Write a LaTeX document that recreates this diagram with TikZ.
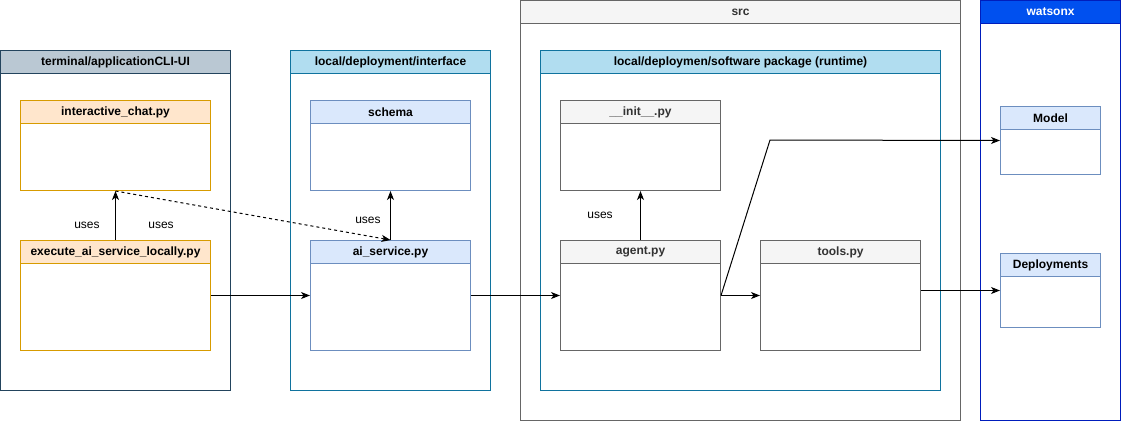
\documentclass[tikz,border=0pt]{standalone}
\usepackage{fontspec}
\setmainfont{Liberation Sans}
\usetikzlibrary{arrows.meta}

\definecolor{termF}{HTML}{BAC8D3}
\definecolor{termS}{HTML}{23445D}
\definecolor{orngF}{HTML}{FFE6CC}
\definecolor{orngS}{HTML}{D79B00}
\definecolor{pkgF}{HTML}{B1DDF0}
\definecolor{pkgS}{HTML}{10739E}
\definecolor{modF}{HTML}{DAE8FC}
\definecolor{modS}{HTML}{6C8EBF}
\definecolor{srcF}{HTML}{F5F5F5}
\definecolor{srcS}{HTML}{666666}
\definecolor{srcT}{HTML}{333333}
\definecolor{wxF}{HTML}{0050EF}
\definecolor{wxS}{HTML}{001DBC}

\begin{document}
\begin{tikzpicture}[x=1pt,y=-1pt]
\tikzset{frame/.style={draw=#1, line width=1pt, anchor=north west, inner sep=0pt}}
\tikzset{head/.style={draw=#1, line width=1pt, anchor=north, minimum height=23pt, inner sep=0pt, font=\fontsize{12pt}{14pt}\selectfont\bfseries}}
\tikzset{link/.style={draw=black, line width=1pt, -{Stealth[length=9pt,width=7pt,inset=2.5pt]}}}
\tikzset{lbl/.style={font=\fontsize{12pt}{14pt}\selectfont}}

\useasboundingbox (0,0) rectangle (1121,421);

% outer containers
\node[frame=termS, minimum width=230pt, minimum height=340pt] (term) at (0,50) {};
\node[head=termS, fill=termF, minimum width=230pt] (term-h) at (term.north) {terminal/applicationCLI-UI};

\node[frame=pkgS, minimum width=200pt, minimum height=340pt] (iface) at (290,50) {};
\node[head=pkgS, fill=pkgF, minimum width=200pt] (iface-h) at (iface.north) {local/deployment/interface};

\node[frame=srcS, minimum width=440pt, minimum height=420pt] (src) at (520,0) {};
\node[head=srcS, fill=srcF, minimum width=440pt, text=srcT] (src-h) at (src.north) {src};

\node[frame=pkgS, minimum width=400pt, minimum height=340pt] (runtime) at (540,50) {};
\node[head=pkgS, fill=pkgF, minimum width=400pt] (runtime-h) at (runtime.north) {local/deploymen/software package (runtime)};

\node[frame=wxS, minimum width=140pt, minimum height=420pt] (wx) at (980,0) {};
\node[head=wxS, fill=wxF, minimum width=140pt, text=white] (wx-h) at (wx.north) {watsonx};

% modules
\node[frame=orngS, minimum width=190pt, minimum height=90pt] (chat) at (20,100) {};
\node[head=orngS, fill=orngF, minimum width=190pt] (chat-h) at (chat.north) {interactive\_chat.py};

\node[frame=orngS, minimum width=190pt, minimum height=110pt] (exec) at (20,240) {};
\node[head=orngS, fill=orngF, minimum width=190pt] (exec-h) at (exec.north) {execute\_ai\_service\_locally.py};

\node[frame=modS, minimum width=160pt, minimum height=90pt] (schema) at (310,100) {};
\node[head=modS, fill=modF, minimum width=160pt] (schema-h) at (schema.north) {schema};

\node[frame=modS, minimum width=160pt, minimum height=110pt] (svc) at (310,240) {};
\node[head=modS, fill=modF, minimum width=160pt] (svc-h) at (svc.north) {ai\_service.py};

\node[frame=srcS, minimum width=160pt, minimum height=90pt] (init) at (560,100) {};
\node[head=srcS, fill=srcF, minimum width=160pt, text=srcT] (init-h) at (init.north) {\_\_init\_\_.py};

\node[frame=srcS, minimum width=160pt, minimum height=110pt] (agent) at (560,240) {};
\node[head=srcS, fill=srcF, minimum width=160pt, text=srcT] (agent-h) at (agent.north) {agent.py};

\node[frame=srcS, minimum width=160pt, minimum height=110pt] (tools) at (760,240) {};
\node[head=srcS, fill=srcF, minimum width=160pt, text=srcT] (tools-h) at (tools.north) {tools.py};

\node[frame=modS, minimum width=100pt, minimum height=68pt] (model) at (1000,106) {};
\node[head=modS, fill=modF, minimum width=100pt] (model-h) at (model.north) {Model};

\node[frame=modS, minimum width=100pt, minimum height=74pt] (deploy) at (1000,253) {};
\node[head=modS, fill=modF, minimum width=100pt] (deploy-h) at (deploy.north) {Deployments};

% connectors
\coordinate (bend) at (770,140);
\draw[link] (exec.north) -- (chat.south)
  node[lbl, midway, left=12pt, yshift=-10pt] {uses}
  node[lbl, midway, right=29pt, yshift=-10pt] {uses};
\draw[link, dashed] (chat.south) -- (svc.north);
\draw[link] (svc.north) -- (schema.south) node[lbl, midway, left=6pt, yshift=-5pt] {uses};
\draw[link] (exec.east) -- (svc.west);
\draw[link] (svc.east) -- (agent.west);
\draw[link] (agent.north) -- (init.south) node[lbl, midway, left=24pt] {uses};
\draw[link] (agent.east) -- (tools.west);
\draw[link] (agent.east) -- (bend) -- (model.west);
\draw[link] (tools.east |- deploy.west) -- (deploy.west);

\end{tikzpicture}
\end{document}
